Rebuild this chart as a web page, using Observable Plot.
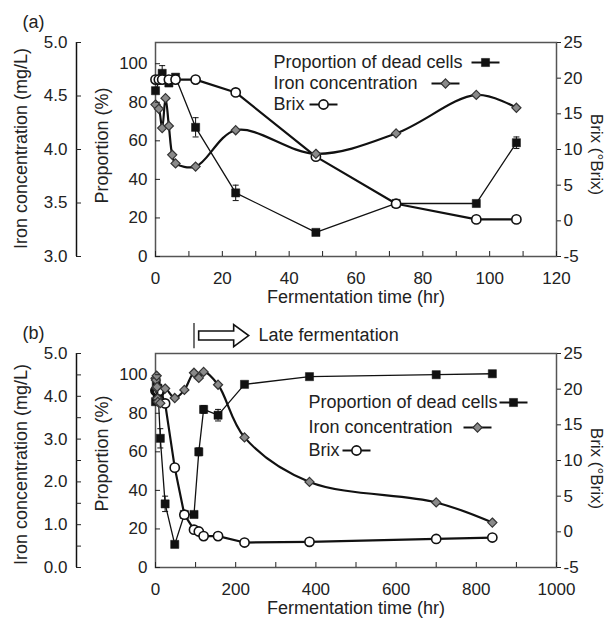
<!DOCTYPE html>
<html><head><meta charset="utf-8">
<script src="https://cdn.jsdelivr.net/npm/d3@7"></script>
<script src="https://cdn.jsdelivr.net/npm/@observablehq/plot@0.6"></script>
<style>body{margin:0;background:#fff;} svg{display:block;}</style>
</head><body><div id="chart"></div>
<script>
// ---------- Panel (a) data ----------
const deadTimeA = [0, 2, 4, 6, 12, 24, 48, 72, 96, 108];
const deadA     = [86, 95, 90, 93, 67, 33, 12.5, 27.5, 27.5, 59];
const deadErrA  = [0, 4, 0, 0, 5, 4, 1.5, 0, 0, 3];
const ironTimeA = [0, 1, 2, 3, 4, 5, 6, 12, 24, 48, 72, 96, 108];
const ironA     = [4.42, 4.38, 4.20, 4.48, 4.22, 3.95, 3.87, 3.84, 4.18, 3.96, 4.15, 4.51, 4.39];
const brixTimeA = [0, 1, 2, 4, 6, 12, 24, 48, 72, 96, 108];
const brixA     = [19.8, 19.8, 19.8, 19.8, 19.8, 19.8, 18, 9, 2.4, 0.2, 0.2];

// ---------- Panel (b) data ----------
const deadTimeB = [0, 2, 4, 6, 12, 24, 48, 72, 96, 108, 120, 156, 222, 384, 700, 840];
const deadB     = [86, 95, 90, 93, 67, 33, 12, 27.5, 27.5, 60, 82, 79, 95, 99, 100, 100.5];
const deadErrB  = [0, 4, 0, 0, 5, 4, 1.5, 0, 0, 2, 2, 3, 1, 1, 1, 1];
const ironTimeB = [0, 1, 2, 3, 4, 5, 6, 12, 24, 48, 72, 96, 108, 120, 156, 222, 384, 700, 840];
const ironB     = [4.42, 4.38, 4.20, 4.48, 4.22, 3.95, 3.87, 3.84, 4.18, 3.96, 4.15, 4.55, 4.43, 4.57, 4.27, 3.04, 2.0, 1.52, 1.05];
const brixTimeB = [0, 1, 2, 4, 6, 12, 24, 48, 72, 96, 108, 120, 156, 222, 384, 700, 840];
const brixB     = [19.8, 19.8, 19.8, 19.8, 19.8, 19.8, 18, 9, 2.4, 0.3, 0.05, -0.6, -0.6, -1.5, -1.4, -1.0, -0.8];

// ---------- ticks & labels ----------
const propTicks   = [0, 20, 40, 60, 80, 100];
const brixTicks   = [-5, 0, 5, 10, 15, 20, 25];
const ironTicksA  = [3.0, 3.5, 4.0, 4.5, 5.0];
const ironTicksB  = [0, 0.5, 1.0, 1.5, 2.0, 2.5, 3.0, 3.5, 4.0, 4.5, 5.0];
const timeTicksA  = [0, 10, 20, 30, 40, 50, 60, 70, 80, 90, 100, 110, 120];
const timeTicksB  = [0, 100, 200, 300, 400, 500, 600, 700, 800, 900, 1000];
const seriesNames = ["Proportion of dead cells", "Iron concentration", "Brix"];
const xTitle      = "Fermentation time (hr)";
const ironTitle   = "Iron concentration (mg/L)";
const propTitle   = "Proportion (%)";
const brixTitle   = "Brix (\u00B0Brix)";
const lateLabel   = "Late fermentation";
const lateStart   = 96;

// ---------- layout ----------
const PTOP = 111;               // proportion value at top of frame
const brixY = b => (b + 5) / 30 * PTOP;
const INK = "#111";
const hline = {draw(ctx, size) { const w = Math.sqrt(size / Math.PI); ctx.moveTo(-w, 0); ctx.lineTo(w, 0); }};
const blockArrow = {draw(ctx) {
  ctx.moveTo(-25, -4.5); ctx.lineTo(10, -4.5); ctx.lineTo(10, -11); ctx.lineTo(25, 0);
  ctx.lineTo(10, 11); ctx.lineTo(10, 4.5); ctx.lineTo(-25, 4.5); ctx.closePath();
}};
const markerStyles = [
  {symbol: "square", r: 4.6, fill: INK, stroke: INK, strokeWidth: 0.5},
  {symbol: "diamond2", r: 4.1, fill: "#8a8a8a", stroke: "#333", strokeWidth: 1.2},
  {symbol: "circle", r: 4.6, fill: "white", stroke: INK, strokeWidth: 1.6}
];

function makePanel(cfg) {
  const deadRows = cfg.deadT.map((t, i) => ({t, v: cfg.dead[i], e: cfg.deadErr[i]}));
  const errRows = deadRows.filter(d => d.e > 0);
  const caps = errRows.flatMap(d => [{t: d.t, v: d.v + d.e}, {t: d.t, v: d.v - d.e}]);
  const ironRows = cfg.ironT.map((t, i) => ({t, v: cfg.iron[i]}));
  const brixRows = cfg.brixT.map((t, i) => ({t, v: cfg.brix[i]}));
  const ironY = v => (v - cfg.ironMin) / (cfg.ironMax - cfg.ironMin) * PTOP;
  const ironFromY = y => y / PTOP * (cfg.ironMax - cfg.ironMin) + cfg.ironMin;

  const marks = [
    Plot.frame({stroke: "#555", strokeWidth: 1.5}),
    // error bars
    Plot.ruleX(errRows, {x: "t", y1: d => d.v - d.e, y2: d => d.v + d.e, stroke: INK, strokeWidth: 1}),
    Plot.dot(caps, {x: "t", y: "v", symbol: hline, r: 3, stroke: INK, strokeWidth: 1}),
    // dead cells
    Plot.line(deadRows, {x: "t", y: "v", stroke: INK, strokeWidth: 1.3}),
    Plot.dot(deadRows, {x: "t", y: "v", ...markerStyles[0]}),
    // brix
    Plot.line(brixRows, {x: "t", y: d => brixY(d.v), stroke: INK, strokeWidth: 2.2}),
    Plot.dot(brixRows, {x: "t", y: d => brixY(d.v), ...markerStyles[2]}),
    // iron
    Plot.line(ironRows, {x: "t", y: d => ironY(d.v), curve: "catmull-rom", stroke: INK, strokeWidth: 2.2}),
    Plot.dot(ironRows, {x: "t", y: d => ironY(d.v), ...markerStyles[1]}),
    // axes
    Plot.axisX(cfg.xTicks, {anchor: "bottom", tickSize: -5, tickPadding: 20, label: null,
      tickFormat: d => (d % cfg.xLabelEvery === 0 ? String(d) : "")}),
    Plot.axisY(propTicks, {anchor: "left", tickSize: -5, tickPadding: 13, label: null, tickFormat: d => String(d)}),
    Plot.axisY(brixTicks.map(brixY), {anchor: "right", tickSize: 4, tickPadding: 3, label: null,
      tickFormat: y => String(Math.round(y / PTOP * 30 - 5))}),
    Plot.ruleX([0], {y1: 0, y2: PTOP, dx: -79, stroke: INK, strokeWidth: 1.5}),
    Plot.axisY(cfg.ironTicks.map(ironY), {anchor: "left", dx: -79, tickSize: -5, tickPadding: 14, label: null,
      tickFormat: y => { const v = Math.round(ironFromY(y) * 10) / 10; return cfg.ironLabelAll || Number.isInteger(v) ? v.toFixed(1) : ""; }}),
    // titles
    Plot.text([cfg.tag], {frameAnchor: "top-left", dx: -133, dy: -20, textAnchor: "start", lineAnchor: "middle", fontSize: 18}),
    Plot.text([ironTitle], {frameAnchor: "left", dx: -134, dy: cfg.ironTitleDy, rotate: -90, textAnchor: "middle", lineAnchor: "middle", fontSize: 18}),
    Plot.text([propTitle], {frameAnchor: "left", dx: -53, dy: cfg.propTitleDy, rotate: -90, textAnchor: "middle", lineAnchor: "middle", fontSize: 18}),
    Plot.text([brixTitle], {frameAnchor: "right", dx: 40, dy: cfg.brixTitleDy, rotate: 90, textAnchor: "middle", lineAnchor: "middle", fontSize: 17}),
    Plot.text([xTitle], {frameAnchor: "bottom", dy: 41, textAnchor: "middle", lineAnchor: "middle", fontSize: 18})
  ];
  // legend
  cfg.legend.forEach((row, i) => {
    marks.push(Plot.text([seriesNames[i]], {frameAnchor: "top-left", dx: row.tx, dy: row.dy, textAnchor: "start", lineAnchor: "middle", fontSize: 18}));
    marks.push(Plot.dot([0], {frameAnchor: "top-left", dx: row.sx, dy: row.dy, symbol: hline, r: 14, stroke: INK, strokeWidth: 2}));
    marks.push(Plot.dot([0], {frameAnchor: "top-left", dx: row.sx, dy: row.dy, ...markerStyles[i]}));
  });
  if (cfg.annotate) {
    marks.push(Plot.ruleX([lateStart], {y1: 113.5, y2: 126.5, stroke: "#444", strokeWidth: 1.5}));
    marks.push(Plot.dot([{t: 170, y: 120.3}], {x: "t", y: "y", symbol: blockArrow, fill: "white", stroke: INK, strokeWidth: 1.6}));
    marks.push(Plot.text([{t: 257, y: 120.3}], {x: "t", y: "y", text: () => lateLabel, textAnchor: "start", fontSize: 18}));
  }
  return Plot.plot({
    width: 610, height: cfg.height,
    marginLeft: 155, marginRight: 54, marginTop: cfg.marginTop, marginBottom: 54,
    style: {fontFamily: "'Liberation Sans', Arial, sans-serif", fontSize: "17px", color: "#222", background: "white", overflow: "visible"},
    x: {domain: [0, cfg.xMax], axis: null},
    y: {domain: [0, PTOP], axis: null},
    marks
  });
}

const panelA = makePanel({
  tag: "(a)", height: 310, marginTop: 42, xMax: 120, xTicks: timeTicksA, xLabelEvery: 20,
  deadT: deadTimeA, dead: deadA, deadErr: deadErrA, ironT: ironTimeA, iron: ironA, brixT: brixTimeA, brix: brixA,
  ironMin: 3, ironMax: 5, ironTicks: ironTicksA, ironLabelAll: true,
  ironTitleDy: -1, propTitleDy: -4, brixTitleDy: 5,
  legend: [{tx: 118, sx: 330, dy: 20}, {tx: 118, sx: 290, dy: 41}, {tx: 118, sx: 168, dy: 62}],
  annotate: false
});
const panelB = makePanel({
  tag: "(b)", height: 311, marginTop: 43, xMax: 1000, xTicks: timeTicksB, xLabelEvery: 200,
  deadT: deadTimeB, dead: deadB, deadErr: deadErrB, ironT: ironTimeB, iron: ironB, brixT: brixTimeB, brix: brixB,
  ironMin: 0, ironMax: 5, ironTicks: ironTicksB, ironLabelAll: false,
  ironTitleDy: 4, propTitleDy: -7, brixTitleDy: 8,
  legend: [{tx: 153, sx: 358, dy: 49}, {tx: 153, sx: 322, dy: 74}, {tx: 153, sx: 201, dy: 97}],
  annotate: true
});
document.getElementById("chart").append(panelA, panelB);
</script>
</body></html>
